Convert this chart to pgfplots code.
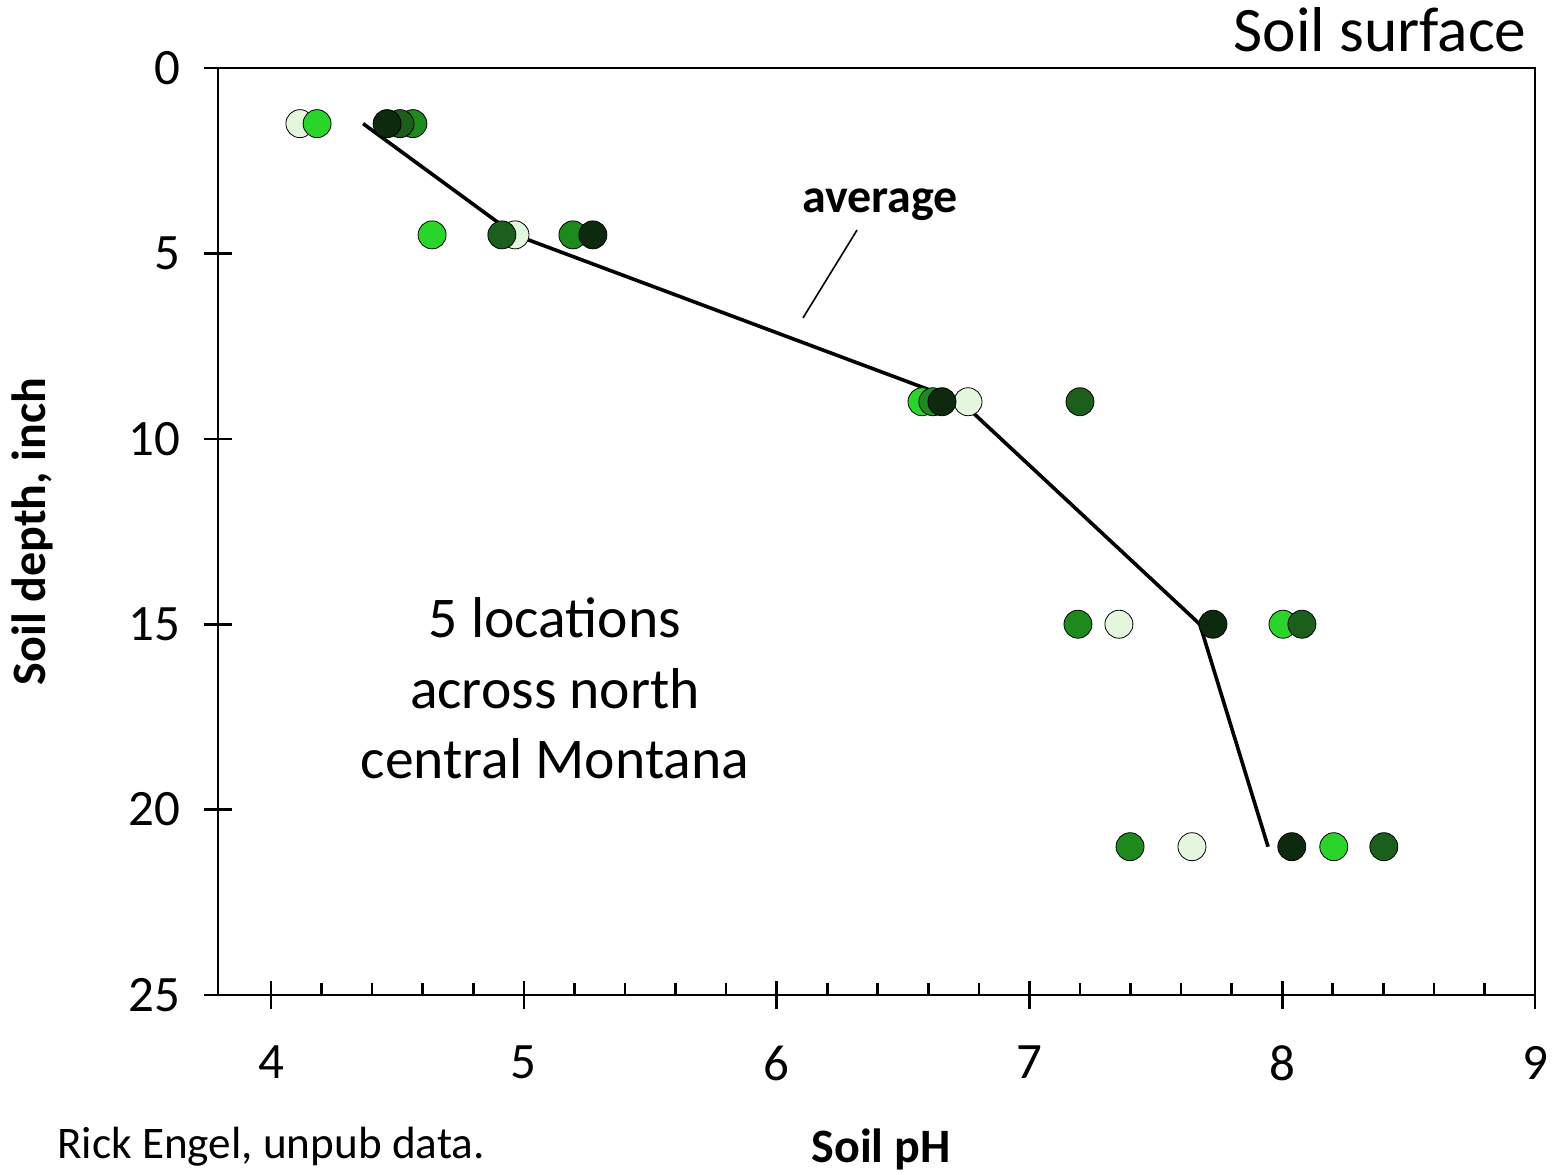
\documentclass[border=0pt]{standalone}
\usepackage{fontspec}
\setmainfont{Carlito}
\usepackage{pgfplots}
\pgfplotsset{compat=1.18}
\definecolor{cLight}{HTML}{E4F6DE}
\definecolor{cBright}{HTML}{2BD42B}
\definecolor{cGreen}{HTML}{1E8A1E}
\definecolor{cDark}{HTML}{1C5E1C}
\definecolor{cDarkest}{HTML}{0E2A0E}
\begin{document}
\begin{tikzpicture}
\begin{axis}[
  scale only axis, width=658.5pt, height=463.5pt,
  xmin=3.79, xmax=9, ymin=0, ymax=25, y dir=reverse,
  xtick={4,5,6,7,8,9}, ytick={0,5,10,15,20,25},
  minor x tick num=4,
  xtick pos=bottom, ytick pos=left,
  tick align=center,
  major tick length=14pt,
  minor tick length=6pt,
  tick style={black, line width=1.3pt},
  minor tick style={yshift=3pt},
  axis line style={line width=1.4pt},
  tick label style={font=\fontsize{25.5}{30}\selectfont},
  xticklabel style={yshift=-15pt},
  yticklabel style={xshift=-8.5pt},
  /pgf/number format/assume math mode=true,
  xlabel={Soil pH}, ylabel={Soil depth, inch},
  label style={font=\bfseries\fontsize{24}{29}\selectfont},
  xlabel style={at={(axis description cs:0.5034,-0.1812)}, anchor=base},
  ylabel style={at={(axis description cs:-0.1306,0.5)}, anchor=base},
  clip=false,
  mark options={draw=black, line width=0.9pt},
]
\addplot[only marks, mark=*, mark size=7pt, mark options={fill=cLight}] coordinates {(4.114,1.5)(4.965,4.5)(6.757,9)(7.354,15)(7.643,21)};
\addplot[only marks, mark=*, mark size=7pt, mark options={fill=cBright}] coordinates {(4.182,1.5)(4.637,4.5)(6.575,9)(8.003,15)(8.204,21)};
\addplot[only marks, mark=*, mark size=7pt, mark options={fill=cGreen}] coordinates {(4.561,1.5)(5.194,4.5)(6.618,9)(7.192,15)(7.398,21)};
\addplot[only marks, mark=*, mark size=7pt, mark options={fill=cDark}] coordinates {(4.510,1.5)(4.913,4.5)(7.200,9)(8.078,15)(8.402,21)};
\addplot[only marks, mark=*, mark size=7pt, mark options={fill=cDarkest}] coordinates {(4.459,1.5)(5.273,4.5)(6.654,9)(7.726,15)(8.038,21)};
\addplot[black, line width=1.8pt, no marks] coordinates {(4.364,1.5)(4.965,4.5)(6.73,9)(7.674,15)(7.944,21)};
\addplot[black, line width=0.8pt, no marks] coordinates {(6.318,4.369)(6.104,6.742)};
\node[anchor=base, font=\bfseries\fontsize{24}{29}\selectfont] at (axis cs:6.409,3.91) {average};
\node[anchor=base, font=\fontsize{28.8}{34}\selectfont] at (axis cs:5.123,15.37) {5 locations};
\node[anchor=base, font=\fontsize{28.8}{34}\selectfont] at (axis cs:5.123,17.26) {across north};
\node[anchor=base, font=\fontsize{28.8}{34}\selectfont] at (axis cs:5.123,19.15) {central Montana};
\end{axis}
\node[anchor=base east, inner sep=0pt, font=\fontsize{31.7}{37}\selectfont] at (654.5pt,471.5pt) {Soil surface};
\node[anchor=base west, inner sep=0pt, font=\fontsize{22.6}{27}\selectfont] at (-80.5pt,-81.5pt) {Rick Engel, unpub data.};
\pgfresetboundingbox
\path (-109pt,-89.5pt) rectangle (668pt,497.5pt);
\end{tikzpicture}
\end{document}
